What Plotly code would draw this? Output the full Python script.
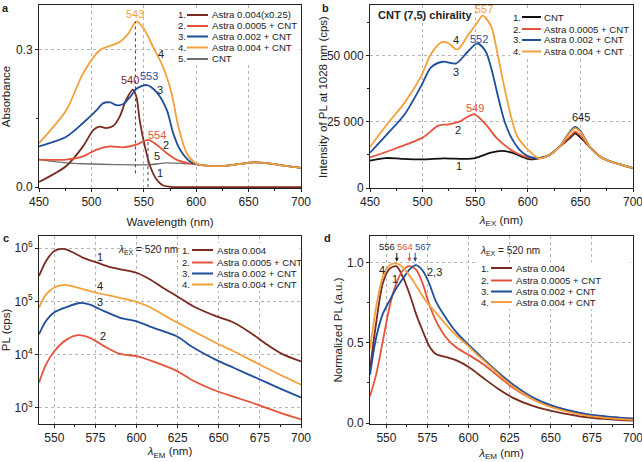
import plotly.graph_objects as go

W, H = 642, 462
FONT = "Liberation Sans, Arial, sans-serif"
C_DARK = "#7a2a1f"
C_RED = "#e4533a"
C_BLUE = "#1f4e9b"
C_ORANGE = "#f4a03a"
C_GRAY = "#6e6e6e"
C_BLACK = "#111111"

# ---------------- Panel a: absorbance ----------------
a_tail_x = [605, 615, 625, 640, 655, 665, 680, 700]
a_tail_y = [0.048, 0.046, 0.046, 0.050, 0.054, 0.053, 0.048, 0.042]

a1_x = [450, 476, 492, 502, 508, 514, 521, 527, 533, 539.5, 543, 546, 551, 556, 562, 568, 578, 600, 650, 700]
a1_y = [0.011, 0.046, 0.089, 0.125, 0.132, 0.129, 0.134, 0.154, 0.19, 0.213, 0.197, 0.147, 0.089, 0.046, 0.017, 0.004, 0.0, 0.0, 0.0, 0.0]

a2_x = [450, 476, 492, 505, 518, 530, 543, 554, 562, 572, 581, 591, 600] + a_tail_x
a2_y = [0.060, 0.060, 0.067, 0.082, 0.089, 0.087, 0.093, 0.103, 0.093, 0.074, 0.060, 0.053, 0.050] + a_tail_y

a3_x = [450, 476, 492, 505, 511, 518, 524, 530, 537, 543, 553, 562, 572, 578, 584.5, 594, 600] + a_tail_x
a3_y = [0.089, 0.110, 0.140, 0.168, 0.183, 0.185, 0.179, 0.181, 0.197, 0.215, 0.223, 0.208, 0.168, 0.118, 0.082, 0.056, 0.050] + a_tail_y

a4_x = [450, 476, 492, 508, 518, 527, 535, 543, 550, 559, 568.5, 576.5, 583, 591, 600] + a_tail_x
a4_y = [0.096, 0.168, 0.248, 0.299, 0.309, 0.317, 0.335, 0.362, 0.346, 0.306, 0.262, 0.205, 0.132, 0.074, 0.051] + a_tail_y

a5_x = [450, 476, 492, 524, 556, 572, 591, 600] + a_tail_x
a5_y = [0.060, 0.053, 0.051, 0.049, 0.049, 0.053, 0.051, 0.050] + a_tail_y

# ---------------- Panel b: PL excitation ----------------
b_tail_x = [610, 620, 630, 640, 645, 650, 660, 670, 680, 690, 700]
b_tail_y = [11200, 12300, 15500, 20500, 22200, 20800, 15000, 11500, 9800, 8600, 7500]

b1_x = [450, 465, 480, 500, 520, 540, 550, 565, 575, 585, 600, 605]
b1_y = [10300, 11300, 11000, 10800, 11200, 11000, 11300, 13300, 14000, 13300, 11000, 10800]
b2_x = [450, 475, 500, 515, 525, 535, 549, 560, 570, 580, 590, 600]
b2_y = [11500, 15000, 19000, 23500, 24000, 25000, 27800, 24000, 19000, 15500, 13000, 11500]
b3_x = [450, 467, 482.6, 498.4, 508, 519, 532, 542, 552, 560, 566, 572, 578, 585, 592, 600]
b3_y = [13300, 20600, 27600, 38300, 45500, 47600, 47000, 51000, 54500, 51500, 44000, 34000, 25000, 18500, 14500, 12000]
b4_x = [450, 467, 482.6, 498.4, 508, 518, 523.7, 533, 542.7, 552, 557, 565, 571, 577.5, 584, 590, 600]
b4_y = [15500, 24400, 32000, 42000, 50500, 55000, 54800, 52200, 57300, 62400, 65000, 61100, 51000, 38400, 27000, 19400, 14500]
b_peak = {"blue": 23000, "orange": 22600, "red": 21200, "black": 20600}

# ---------------- Panel c: PL emission (log) ----------------
c_x1 = [540.7, 545, 550, 555.5, 561.5, 567.6, 575.7, 583.9, 592, 600, 608, 616, 624.4, 634.5, 648.7, 658.9, 669, 679, 689, 700]
c_y1 = [3.0e5, 5.75e5, 8.9e5, 9.7e5, 8.3e5, 6.6e5, 5.4e5, 4.4e5, 3.9e5, 3.45e5, 2.6e5, 1.8e5, 1.26e5, 8.1e4, 5.2e4, 4.0e4, 2.6e4, 1.55e4, 1.0e4, 7.4e3]
c_x2 = [540.7, 545, 550, 557.5, 564.6, 571.7, 580, 590, 600, 610, 624.4, 634.5, 648.7, 659, 673, 687, 700]
c_y2 = [2.95e3, 6.5e3, 1.15e4, 1.9e4, 2.3e4, 2.05e4, 1.45e4, 1.02e4, 9.3e3, 7.4e3, 4.9e3, 3.2e3, 2.05e3, 1.6e3, 1.15e3, 8.0e2, 6.0e2]
c_x3 = [540.7, 545, 550, 557.5, 565.6, 571.7, 580, 590, 600, 610, 624.4, 634.5, 648.7, 659, 673, 687, 700]
c_y3 = [2.4e4, 4.3e4, 6.2e4, 7.8e4, 9.3e4, 8.7e4, 6.6e4, 4.9e4, 4.2e4, 3.2e4, 2.2e4, 1.35e4, 7.8e3, 5.6e3, 3.6e3, 2.3e3, 1.55e3]
c_x4 = [540.7, 545, 550, 556, 564, 575.7, 588, 600, 608, 618, 626, 634.5, 648.7, 659, 673, 687, 700]
c_y4 = [7.6e4, 1.35e5, 1.82e5, 2.04e5, 1.82e5, 1.45e5, 1.2e5, 9.8e4, 7.8e4, 5.2e4, 3.8e4, 2.75e4, 1.62e4, 1.15e4, 6.9e3, 4.2e3, 2.7e3]

# ---------------- Panel d: normalized PL ----------------
d_x1 = [540, 543.7, 547.8, 551.8, 556, 560, 564, 568, 572, 576, 580, 586.5, 592.6, 600.7, 609, 617, 627, 639.5, 651.7, 672, 700]
d_y1 = [0.335, 0.62, 0.87, 0.96, 0.977, 0.91, 0.805, 0.68, 0.575, 0.48, 0.43, 0.41, 0.39, 0.345, 0.28, 0.22, 0.157, 0.105, 0.073, 0.036, 0.015]
d_x2 = [540, 543.7, 547.8, 551.8, 556, 560, 564, 568, 572, 576, 580, 586.5, 592.6, 600.7, 609, 617, 627, 639.5, 651.7, 672, 700]
d_y2 = [0.167, 0.30, 0.51, 0.72, 0.87, 0.95, 0.977, 0.956, 0.87, 0.74, 0.64, 0.53, 0.47, 0.42, 0.366, 0.30, 0.22, 0.146, 0.10, 0.052, 0.027]
d_x3 = [540, 543.7, 547.8, 551.8, 556, 560, 564, 568, 572, 576, 580, 586.5, 592.6, 600.7, 609, 617, 627, 639.5, 651.7, 672, 700]
d_y3 = [0.30, 0.53, 0.68, 0.76, 0.84, 0.90, 0.956, 0.983, 0.95, 0.87, 0.76, 0.65, 0.565, 0.48, 0.40, 0.324, 0.24, 0.157, 0.105, 0.056, 0.027]
d_x4 = [540, 543.7, 547.8, 551.8, 556, 560, 566, 574, 582.4, 590.5, 598.7, 607, 615, 623, 631, 641.5, 651.7, 668, 684, 700]
d_y4 = [0.46, 0.72, 0.91, 0.983, 0.994, 0.97, 0.89, 0.76, 0.66, 0.565, 0.49, 0.41, 0.335, 0.26, 0.20, 0.136, 0.094, 0.052, 0.031, 0.02]

legend_a = ["Astra 0.004(x0.25)", "Astra 0.0005 + CNT", "Astra 0.002 + CNT", "Astra 0.004 + CNT", "CNT"]
legend_b = ["CNT", "Astra 0.0005 + CNT", "Astra 0.002 + CNT", "Astra 0.004 + CNT"]
legend_cd = ["Astra 0.004", "Astra 0.0005 + CNT", "Astra 0.002 + CNT", "Astra 0.004 + CNT"]

TICK_SIZE = 12
TITLE_SIZE = 11.5
LEG_SIZE = 9.6
ANN_SIZE = 11

fig = go.Figure()

def px(v):
    return v / W

def py(v):
    return 1 - v / H

def line(xs, ys, color, xa, ya, width=1.8):
    fig.add_trace(go.Scatter(x=xs, y=ys, mode="lines", xaxis=xa, yaxis=ya,
                             line=dict(color=color, width=width, shape="spline", smoothing=0.8),
                             showlegend=False, hoverinfo="skip"))

# panel a
line(a5_x, a5_y, C_GRAY, "x", "y", 1.3)
line(a1_x, a1_y, C_DARK, "x", "y")
line(a2_x, a2_y, C_RED, "x", "y")
line(a3_x, a3_y, C_BLUE, "x", "y")
line(a4_x, a4_y, C_ORANGE, "x", "y")

# panel b
def with_tail(xs, ys, peak):
    ty = list(b_tail_y)
    ty[4] = peak
    ty[3] = peak - 1800
    ty[5] = peak - 1500
    return xs + b_tail_x, ys + ty

bx, byy = with_tail(b1_x, b1_y, b_peak["black"]); line(bx, byy, C_BLACK, "x2", "y2")
bx, byy = with_tail(b2_x, b2_y, b_peak["red"]); line(bx, byy, C_RED, "x2", "y2")
bx, byy = with_tail(b3_x, b3_y, b_peak["blue"]); line(bx, byy, C_BLUE, "x2", "y2")
bx, byy = with_tail(b4_x, b4_y, b_peak["orange"]); line(bx, byy, C_ORANGE, "x2", "y2")

# panel c
line(c_x1, c_y1, C_DARK, "x3", "y3")
line(c_x2, c_y2, C_RED, "x3", "y3")
line(c_x3, c_y3, C_BLUE, "x3", "y3")
line(c_x4, c_y4, C_ORANGE, "x3", "y3")

# panel d
line(d_x1, d_y1, C_DARK, "x4", "y4")
line(d_x2, d_y2, C_RED, "x4", "y4")
line(d_x3, d_y3, C_BLUE, "x4", "y4")
line(d_x4, d_y4, C_ORANGE, "x4", "y4")

ax_common = dict(showline=True, linecolor="#222", linewidth=1, mirror=True, automargin=False,
                 ticks="outside", ticklen=3, tickcolor="#222", zeroline=False,
                 showgrid=True, gridcolor="#b5b5b5", griddash="dot", gridwidth=1,
                 ticklabeloverflow="allow",
                 tickfont=dict(size=TICK_SIZE, color="#222", family=FONT),
                 title_font=dict(size=TITLE_SIZE, color="#222", family=FONT))
minor_common = dict(ticklen=2, tickcolor="#222", showgrid=False)

dom_a_x = [px(39), px(301)]
dom_b_x = [px(370), px(633)]
dom_top_y = [py(188), py(5)]
dom_bot_y = [py(424), py(236)]

fig.update_layout(
    width=W, height=H, margin=dict(l=0, r=0, t=0, b=0, autoexpand=False),
    paper_bgcolor="white", plot_bgcolor="white",
    font=dict(family=FONT, size=11, color="#222"),
    xaxis=dict(ax_common, domain=dom_a_x, anchor="y", range=[450, 700], dtick=50,
               minor=dict(minor_common, dtick=25),
               title=dict(text="Wavelength (nm)", standoff=9)),
    yaxis=dict(ax_common, domain=dom_top_y, anchor="x", range=[-0.002, 0.398],
               tickvals=[0.0, 0.3], ticktext=["0.0", "0.3"],
               minor=dict(minor_common, tickvals=[0.15]),
               title=dict(text="Absorbance", standoff=6)),
    xaxis2=dict(ax_common, domain=dom_b_x, anchor="y2", range=[450, 700], dtick=50,
                minor=dict(minor_common, dtick=25),
                title=dict(text="<i>λ</i><sub>EX</sub> (nm)", standoff=7)),
    yaxis2=dict(ax_common, domain=dom_top_y, anchor="x2", range=[0, 69000],
                tickvals=[0, 25000, 50000], ticktext=["0", "25 000", "50 000"],
                minor=dict(minor_common, tickvals=[12500, 37500, 62500])),
    xaxis3=dict(ax_common, domain=dom_a_x, anchor="y3", range=[540.7, 700], tickvals=[550, 575, 600, 625, 650, 675, 700],
                minor=dict(minor_common, dtick=12.5, tick0=550),
                title=dict(text="<i>λ</i><sub>EM</sub> (nm)", standoff=2)),
    yaxis3=dict(ax_common, domain=dom_bot_y, anchor="x3", type="log", range=[2.69, 6.23],
                tickvals=[1e3, 1e4, 1e5, 1e6],
                ticktext=["10<sup>3</sup>", "10<sup>4</sup>", "10<sup>5</sup>", "10<sup>6</sup>"],
                title=dict(text="PL (cps)", standoff=6)),
    xaxis4=dict(ax_common, domain=dom_b_x, anchor="y4", range=[540, 700], tickvals=[550, 575, 600, 625, 650, 675, 700],
                minor=dict(minor_common, dtick=12.5, tick0=550),
                title=dict(text="<i>λ</i><sub>EM</sub> (nm)", standoff=4)),
    yaxis4=dict(ax_common, domain=dom_bot_y, anchor="x4", range=[-0.006, 1.165],
                tickvals=[0.0, 0.5, 1.0], ticktext=["0.0", "0.5", "1.0"],
                minor=dict(minor_common, tickvals=[0.25, 0.75]),
                title=dict(text="Normalized PL (a.u.)", standoff=1)),
)

shapes = []
anns = []

def ann(text, x, y, xref, yref, color="#222", size=ANN_SIZE, xanchor="center", bold=False):
    t = f"<b>{text}</b>" if bold else text
    anns.append(dict(text=t, x=x, y=y, xref=xref, yref=yref, showarrow=False,
                     font=dict(size=size, color=color, family=FONT), xanchor=xanchor, yanchor="middle"))

# panel b y-axis title (placed as rotated text)
anns.append(dict(text="Intensity of PL at 1028 nm (cps)", x=px(323), y=py(97), xref="paper", yref="paper",
                 showarrow=False, textangle=-90, xanchor="center", yanchor="middle",
                 font=dict(size=TITLE_SIZE, color="#222", family=FONT)))

# dotted guide lines
dotline = dict(color="#444", width=1, dash="dot")
shapes.append(dict(type="line", xref="x", yref="y", x0=542, x1=542, y0=0.03, y1=0.362, line=dotline))
shapes.append(dict(type="line", xref="x", yref="y", x0=554, x1=554, y0=0.0, y1=0.1, line=dotline))
shapes.append(dict(type="line", xref="x3", yref="y3", x0=557, x1=557, y0=3.84, y1=6.0, line=dotline))

# legends drawn manually (white background boxes)
def legend(rows, colors, num_x, line_x0, line_x1, text_x, y_rows, box):
    shapes.append(dict(type="rect", xref="paper", yref="paper", x0=px(box[0]), x1=px(box[1]),
                       y0=py(box[3]), y1=py(box[2]), fillcolor="white", line=dict(width=0), layer="above"))
    for i, (lab, col, yy) in enumerate(zip(rows, colors, y_rows)):
        ann(f"{i+1}.", px(num_x), py(yy), "paper", "paper", size=LEG_SIZE, xanchor="right")
        shapes.append(dict(type="line", xref="paper", yref="paper", x0=px(line_x0), x1=px(line_x1),
                           y0=py(yy), y1=py(yy), line=dict(color=col, width=2), layer="above"))
        ann(lab, px(text_x), py(yy), "paper", "paper", size=LEG_SIZE, xanchor="left")

legend(legend_a, [C_DARK, C_RED, C_BLUE, C_ORANGE, C_GRAY], 188, 187, 208, 210,
       [15, 26, 36.5, 47.5, 59], (176, 299, 8, 65))
legend(legend_b, [C_BLACK, C_RED, C_BLUE, C_ORANGE], 523, 522, 541, 542,
       [17, 29, 40, 51.5], (510, 630, 10, 58))
legend(legend_cd, [C_DARK, C_RED, C_BLUE, C_ORANGE], 192, 192, 213, 215,
       [250, 262.5, 273.5, 284.5], (182, 299, 243, 291))
legend(legend_cd, [C_DARK, C_RED, C_BLUE, C_ORANGE], 491, 491, 512, 514,
       [268, 280.5, 291.5, 302], (478, 630, 262, 309))

# panel labels
ann("a", px(6), py(8), "paper", "paper", size=11, bold=True)
ann("b", px(326), py(8), "paper", "paper", size=11, bold=True)
ann("c", px(6), py(238), "paper", "paper", size=11, bold=True)
ann("d", px(327), py(238), "paper", "paper", size=11, bold=True)

# panel a labels
ann("543", 541.6, 0.378, "x", "y", C_ORANGE)
ann("540", 536.8, 0.234, "x", "y", C_DARK)
ann("553", 555, 0.242, "x", "y", C_BLUE)
ann("554", 562.3, 0.113, "x", "y", C_RED)
ann("4", 566.4, 0.291, "x", "y")
ann("3", 565.5, 0.213, "x", "y")
ann("2", 570.9, 0.091, "x", "y")
ann("5", 563, 0.067, "x", "y")
ann("1", 565.5, 0.03, "x", "y")

# panel b labels
ann("CNT (7,5) chirality", 455.5, 65400, "x2", "y2", bold=True, xanchor="left")
ann("557", 558.5, 67600, "x2", "y2", C_ORANGE)
ann("552", 553.8, 56300, "x2", "y2", C_BLUE)
ann("549", 549.7, 30000, "x2", "y2", C_RED)
ann("645", 650.5, 26700, "x2", "y2")
ann("4", 531.6, 55800, "x2", "y2")
ann("3", 531.6, 43800, "x2", "y2")
ann("2", 533.2, 21900, "x2", "y2")
ann("1", 534.8, 8400, "x2", "y2")

# panel c labels
anns.append(dict(text="<i>λ</i><sub>EX</sub> = 520 nm", x=px(180), y=py(250), xref="paper", yref="paper",
                 showarrow=False, xanchor="right", yanchor="middle", font=dict(size=10, color="#222", family=FONT)))
ann("1", 577.8, 5.84, "x3", "y3")
ann("4", 577.8, 5.29, "x3", "y3")
ann("3", 577.8, 4.99, "x3", "y3")
ann("2", 579.8, 4.35, "x3", "y3")

# panel d labels
anns.append(dict(text="<i>λ</i><sub>EX</sub> = 520 nm", x=px(478), y=py(251), xref="paper", yref="paper",
                 showarrow=False, xanchor="left", yanchor="middle", font=dict(size=10, color="#222", family=FONT)))
ann("556", 550.2, 1.098, "x4", "y4", "#222", size=9.5)
ann("564", 561.1, 1.098, "x4", "y4", C_RED, size=9.5)
ann("567", 572.0, 1.098, "x4", "y4", C_BLUE, size=9.5)
for xv, col in [(556.3, "#222"), (564, C_RED), (567.5, C_BLUE)]:
    anns.append(dict(x=xv, y=1.005, ax=xv, ay=1.07, xref="x4", yref="y4", axref="x4", ayref="y4",
                     showarrow=True, arrowhead=2, arrowsize=0.8, arrowwidth=1, arrowcolor=col, text=""))
ann("4", 547.1, 0.956, "x4", "y4")
ann("1", 555.3, 0.9, "x4", "y4")
ann("2,3", 579.3, 0.94, "x4", "y4")

fig.update_layout(shapes=shapes, annotations=anns)
fig.write_html("out.html", config={"displayModeBar": False},
               post_script="document.body.style.margin='0';document.body.style.padding='0';document.body.style.overflow='hidden';")
